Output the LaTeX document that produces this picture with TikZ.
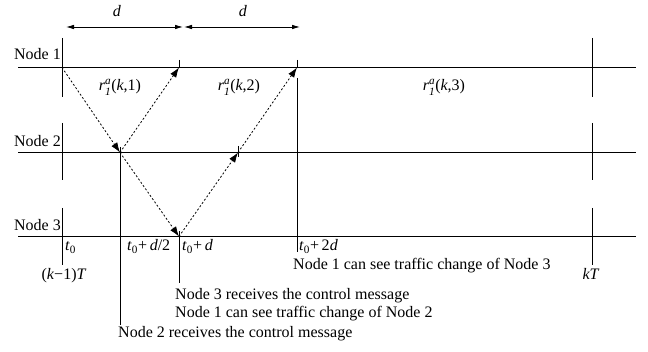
\documentclass[tikz,border=0pt]{standalone}
\usepackage{amsmath}
\usepackage{fontspec}
\setmainfont{Liberation Serif}
\usetikzlibrary{arrows.meta}
\newcommand{\rrate}[1]{$\textit{r}^{\textit{a}}_{\textit{1}}$(\textit{k},#1)}
\newcommand{\tzero}{\textit{t}\textsubscript{0}}
\begin{document}
\begin{tikzpicture}[x=1pt,y=-1pt,
  every node/.style={inner sep=0pt,font=\fontsize{16}{18}\selectfont},
  timeline/.style={line width=0.9pt},
  mark line/.style={line width=0.9pt},
  msg/.style={dashed,dash pattern=on 2pt off 2pt,line width=0.8pt,-{Latex[length=10pt,width=7pt]}},
  dim/.style={line width=0.8pt,{Latex[length=8pt,width=4.5pt]}-{Latex[length=8pt,width=4.5pt]}},
  lbl/.style={anchor=base west},
  clbl/.style={anchor=base}]
\useasboundingbox (0,0) rectangle (648,352);

% time axes of the three nodes
\coordinate (l1) at (18,67.5);  \coordinate (e1) at (636,67.5);
\coordinate (l2) at (18,152.5); \coordinate (e2) at (636,152.5);
\coordinate (l3) at (18,236.5); \coordinate (e3) at (636,236.5);
\draw[timeline] (l1) -- (e1);
\draw[timeline] (l2) -- (e2);
\draw[timeline] (l3) -- (e3);

\node[anchor=base east] (n1) at (61,60) {Node 1};
\node[anchor=base east] (n2) at (61,146.5) {Node 2};
\node[anchor=base east] (n3) at (61,231) {Node 3};

% event points
\coordinate (a1) at (62,67.5);
\coordinate (b2) at (120,152.5);
\coordinate (c1) at (179,67.5);
\coordinate (c3) at (179,236.5);
\coordinate (d2) at (238,152.5);
\coordinate (f1) at (297,67.5);

% period boundaries (k-1)T and kT
\foreach \x in {62, 592}{
  \draw[mark line] (\x,38) -- (\x,97);
  \draw[mark line] (\x,123) -- (\x,180);
  \draw[mark line] (\x,208) -- (\x,265);
}

% instants on the axes
\draw[mark line] (120,147) -- (120,325);
\draw[mark line] (179,60) -- (c1);
\draw[mark line] (179,231) -- (179,283);
\draw[mark line] (238,146) -- (238,157);
\draw[mark line] (297,60) -- (f1);
\draw[mark line] (297,78) -- (297,252);

% control message and traffic change propagation
\draw[msg] (a1) -- (b2);
\draw[msg] (b2) -- (c1);
\draw[msg] (b2) -- (c3);
\draw[msg] (c3) -- (d2);
\draw[msg] (d2) -- (f1);

% delay d
\coordinate (da) at (66,27); \coordinate (db) at (183,27);
\coordinate (dc) at (184,27); \coordinate (dd) at (300,27);
\draw[dim] (da) -- (db);
\draw[dim] (dc) -- (dd);
\node[clbl] (dl1) at (117,17) {\textit{d}};
\node[clbl] (dl2) at (243,17) {\textit{d}};

% rates within the period
\node[clbl] (r1) at (120,91) {\rrate{1}};
\node[clbl] (r2) at (239,91) {\rrate{2}};
\node[clbl] (r3) at (444,91) {\rrate{3}};

% time labels
\node[lbl] (t0) at (65,251) {\tzero};
\node[lbl] (t1) at (127,251) {\tzero+\,\textit{d}/2};
\node[lbl] (t2) at (182,251) {\tzero+\,\textit{d}};
\node[lbl] (t3) at (299,251) {\tzero+\,2\textit{d}};
\node[clbl] (kp) at (64,280) {(\textit{k}−1)\textit{T}};
\node[clbl] (kq) at (591,280) {\textit{kT}};

% event descriptions
\node[lbl] (ev3) at (293,270) {Node 1 can see traffic change of Node 3};
\node[lbl] (ev2a) at (175,300) {Node 3 receives the control message};
\node[lbl] (ev2b) at (175,318) {Node 1 can see traffic change of Node 2};
\node[lbl] (ev1) at (118,338) {Node 2 receives the control message};
\end{tikzpicture}
\end{document}
